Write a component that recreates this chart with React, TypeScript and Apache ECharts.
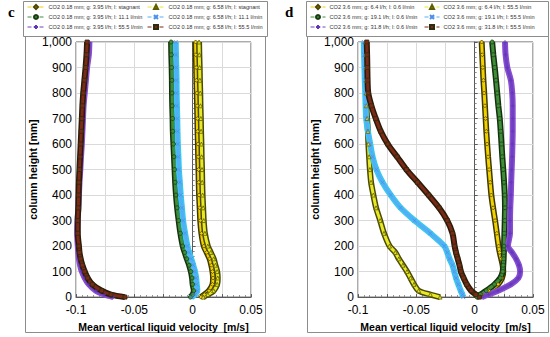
import React, { useEffect, useRef } from "react";
import * as echarts from "echarts";

// column heights [mm] at which the profiles were read
const heights = [0, 10, 25, 50, 75, 100, 125, 150, 175, 200, 250, 300, 350, 400, 450, 500, 550, 600, 650, 700, 750, 800, 850, 900, 950, 1000];

// panel c (CO2 0.18 mm) velocities [m/s]
const cG395Stag = [0.007, 0.010, 0.014, 0.017, 0.0175, 0.017, 0.016, 0.0145, 0.012, 0.0095, 0.0075, 0.0065, 0.006, 0.0055, 0.0052, 0.005, 0.0047, 0.0045, 0.0042, 0.004, 0.0038, 0.0035, 0.0032, 0.003, 0.0027, 0.0025];
const cG658Stag = [0.009, 0.013, 0.018, 0.021, 0.0215, 0.021, 0.0195, 0.018, 0.0155, 0.013, 0.0105, 0.0095, 0.009, 0.0085, 0.0082, 0.008, 0.0077, 0.0075, 0.0072, 0.007, 0.0067, 0.0065, 0.0062, 0.006, 0.0057, 0.0055];
const cG395L111 = [-0.002, 0.0, 0.001, 0.0, -0.0005, -0.0015, -0.003, -0.005, -0.0068, -0.0085, -0.0105, -0.012, -0.0133, -0.0143, -0.015, -0.0155, -0.016, -0.0165, -0.017, -0.0172, -0.0175, -0.0177, -0.0178, -0.018, -0.0183, -0.0185];
const cG658L111 = [-0.001, 0.002, 0.004, 0.0035, 0.003, 0.002, 0.0005, -0.0012, -0.003, -0.0045, -0.0065, -0.0082, -0.0092, -0.0102, -0.011, -0.0118, -0.0122, -0.0127, -0.013, -0.0132, -0.0135, -0.0137, -0.0138, -0.014, -0.0143, -0.0145];
const cG395L555 = [-0.068, -0.076, -0.083, -0.089, -0.0925, -0.095, -0.0965, -0.0975, -0.098, -0.0985, -0.099, -0.0987, -0.098, -0.0975, -0.097, -0.0963, -0.0957, -0.095, -0.0945, -0.094, -0.0935, -0.0925, -0.0915, -0.0905, -0.089, -0.0885];
const cG658L555 = [-0.058, -0.07, -0.078, -0.086, -0.09, -0.0925, -0.0945, -0.096, -0.097, -0.0975, -0.0985, -0.0985, -0.098, -0.0978, -0.0975, -0.097, -0.0965, -0.096, -0.0955, -0.095, -0.0945, -0.0938, -0.0928, -0.0918, -0.091, -0.0905];

// panel d (CO2 3.6 mm) velocities [m/s]
const dG64L06 = [0.002, 0.006, 0.012, 0.02, 0.0235, 0.0245, 0.024, 0.0228, 0.0215, 0.0205, 0.019, 0.0175, 0.0158, 0.0143, 0.0133, 0.0124, 0.0115, 0.0107, 0.01, 0.0094, 0.0088, 0.0082, 0.0075, 0.007, 0.0065, 0.006];
const dG64L555 = [-0.0297, -0.038, -0.048, -0.052, -0.055, -0.058, -0.0615, -0.065, -0.068, -0.073, -0.0777, -0.081, -0.0845, -0.0868, -0.0888, -0.0898, -0.0905, -0.0911, -0.0915, -0.0922, -0.0928, -0.0929, -0.093, -0.093, -0.0933, -0.0935];
const dG191L06 = [0.002, 0.005, 0.01, 0.017, 0.022, 0.024, 0.0245, 0.0248, 0.025, 0.0252, 0.0255, 0.0258, 0.026, 0.0258, 0.0252, 0.0245, 0.0237, 0.023, 0.0223, 0.0215, 0.0203, 0.0193, 0.0183, 0.0172, 0.016, 0.015];
const dG191L555 = [-0.0098, -0.0105, -0.012, -0.014, -0.016, -0.0175, -0.019, -0.0215, -0.0235, -0.026, -0.038, -0.0515, -0.0635, -0.072, -0.079, -0.0842, -0.0875, -0.0895, -0.0915, -0.093, -0.0935, -0.0938, -0.0942, -0.0945, -0.0948, -0.095];
const dG318L06 = [0.006, 0.012, 0.02, 0.031, 0.0375, 0.039, 0.038, 0.0355, 0.032, 0.0285, 0.0303, 0.0303, 0.0305, 0.031, 0.0313, 0.0317, 0.0321, 0.0324, 0.0326, 0.0326, 0.0326, 0.0322, 0.031, 0.028, 0.0265, 0.026];
const dG318L555 = [0.004, 0.001, -0.003, -0.0068, -0.0095, -0.0118, -0.013, -0.0145, -0.016, -0.0172, -0.019, -0.0235, -0.0305, -0.0395, -0.049, -0.0585, -0.0665, -0.0745, -0.0805, -0.0848, -0.0885, -0.0912, -0.0918, -0.092, -0.0922, -0.0925];

const namesC = [
  "CO2 0.18 mm; g: 3.95 l/h; l: stagnant",
  "CO2 0.18 mm; g: 6.58 l/h; l: stagnant",
  "CO2 0.18 mm; g: 3.95 l/h; l: 11.1 l/min",
  "CO2 0.18 mm; g: 6.58 l/h; l: 11.1 l/min",
  "CO2 0.18 mm; g: 3.95 l/h; l: 55.5 l/min",
  "CO2 0.18 mm; g: 6.58 l/h; l: 55.5 l/min",
];
const namesD = [
  "CO2 3.6 mm; g: 6.4 l/h; l: 0.6 l/min",
  "CO2 3.6 mm; g: 6.4 l/h; l: 55.5 l/min",
  "CO2 3.6 mm; g: 19.1 l/h; l: 0.6 l/min",
  "CO2 3.6 mm; g: 19.1 l/h; l: 55.5 l/min",
  "CO2 3.6 mm; g: 31.8 l/h; l: 0.6 l/min",
  "CO2 3.6 mm; g: 31.8 l/h; l: 55.5 l/min",
];
const xTickLabels = ["-0.1", "-0.05", "0", "0.05"];

const X_PATH = "path://M0,0 L10,10 M10,0 L0,10";
const PLUS_PATH = "path://M5,0 L5,10 M0,5 L10,5";

const styles = [
  { symbol: "diamond", fill: "#f2d000", stroke: "#4d4400", line: "#d8b400", band: "#3d3800" },
  { symbol: "triangle", fill: "#e8e826", stroke: "#5e5e00", line: "#e0dc00", band: "#4a4a06" },
  { symbol: "circle", fill: "#3f8f3a", stroke: "#1c3a12", line: "#2f6b25", band: "#16300e" },
  { symbol: X_PATH, fill: "#55aef5", stroke: "#4a90e8", line: "#5fa8f5", band: "#38c8f0" },
  { symbol: PLUS_PATH, fill: "#7040c4", stroke: "#6236b8", line: "#3a48c0", band: "#8a4fd0" },
  { symbol: "rect", fill: "#7a2a16", stroke: "#2e2a0c", line: "#3e5a1e", band: "#2a1a08" },
];

function buildSeries(names: string[], values: number[][], gridIdx: number) {
  const out: any[] = [];
  values.forEach((vals, i) => {
    const st = styles[i];
    const data = heights.map((h, k) => [vals[k], h]);
    out.push({
      name: "_band" + gridIdx + "_" + i,
      type: "line",
      xAxisIndex: gridIdx,
      yAxisIndex: gridIdx,
      data,
      showSymbol: false,
      silent: true,
      lineStyle: { color: st.band, width: 6 },
      smooth: 0.3,
    });
    out.push({
      name: names[i],
      type: "line",
      xAxisIndex: gridIdx,
      yAxisIndex: gridIdx,
      data,
      symbol: st.symbol,
      symbolSize: 4,
      showAllSymbol: true,
      smooth: 0.3,
      lineStyle: { color: st.fill, width: 3 },
      itemStyle: { color: st.fill, borderColor: st.stroke, borderWidth: 0.8 },
    });
  });
  return out;
}

function xAxis(gridIndex: number) {
  return {
    type: "value",
    gridIndex,
    min: -0.1,
    max: 0.05,
    interval: 0.025,
    name: "Mean vertical liquid velocity  [m/s]",
    nameLocation: "middle",
    nameGap: 17,
    nameTextStyle: { fontSize: 10.5, fontWeight: "bold", color: "#000", fontFamily: "Liberation Sans" },
    axisLine: { show: true, lineStyle: { color: "#595959" } },
    axisTick: { show: true, inside: true, length: 3, lineStyle: { color: "#595959" } },
    minorTick: { show: true, splitNumber: 5, length: 2, lineStyle: { color: "#8a8a8a" } },
    splitLine: { show: true, lineStyle: { color: "#dadada", width: 1 } },
    axisLabel: {
      margin: 7,
      fontSize: 12,
      lineHeight: 12,
      color: "#000",
      fontFamily: "Liberation Sans",
      formatter: (v: number) => {
        const k = Math.round((v + 0.1) / 0.05);
        if (Math.abs(v - (-0.1 + k * 0.05)) > 1e-6) return "";
        return xTickLabels[k] ?? "";
      },
    },
  };
}

function yAxis(gridIndex: number) {
  return {
    type: "value",
    gridIndex,
    min: 0,
    max: 1000,
    interval: 100,
    name: "column height [mm]",
    nameLocation: "middle",
    nameGap: 37,
    nameTextStyle: { fontSize: 10.5, fontWeight: "bold", color: "#000", fontFamily: "Liberation Sans" },
    axisLine: { show: true, lineStyle: { color: "#595959" } },
    axisTick: { show: true, inside: true, length: 3, lineStyle: { color: "#595959" } },
    minorTick: { show: true, splitNumber: 5, length: 2, lineStyle: { color: "#8a8a8a" } },
    splitLine: { show: true, lineStyle: { color: "#dadada", width: 1 } },
    axisLabel: { margin: 4, fontSize: 12, lineHeight: 11, color: "#000", fontFamily: "Liberation Sans" },
  };
}

function legend(names: string[], left: number, itemWidth: number) {
  return {
    orient: "vertical",
    left,
    top: 4,
    padding: 0,
    itemGap: 4,
    itemWidth,
    itemHeight: 5,
    selectedMode: false,
    textStyle: { fontSize: 5.6, color: "#333", fontFamily: "Liberation Sans", padding: [0, 0, 0, -1] },
    data: names.map((n) => ({ name: n, lineStyle: { type: "dashed", width: 1 } })),
  };
}

export default function App() {
  const ref = useRef<HTMLDivElement>(null);
  useEffect(() => {
    if (!ref.current) return;
    const chart = echarts.init(ref.current, undefined, { renderer: "svg" });
    const option: any = {
      animation: false,
      backgroundColor: "#fff",
      grid: [
        { left: 76, top: 42, width: 175, height: 261, show: true, borderColor: "#595959", borderWidth: 1 },
        { left: 358, top: 42, width: 175, height: 261, show: true, borderColor: "#595959", borderWidth: 1 },
      ],
      xAxis: [xAxis(0), xAxis(1)],
      yAxis: [yAxis(0), yAxis(1)],
      legend: [
        legend([namesC[0], namesC[2], namesC[4]], 27, 17),
        legend([namesC[1], namesC[3], namesC[5]], 147, 17),
        legend([namesD[0], namesD[2], namesD[4]], 310, 15),
        legend([namesD[1], namesD[3], namesD[5]], 424, 15),
      ],
      graphic: [
        { type: "rect", shape: { x: 23.5, y: 1.5, width: 244, height: 35 }, style: { fill: "none", stroke: "#8c8c8c", lineWidth: 1 }, silent: true },
        { type: "rect", shape: { x: 25.5, y: 36.5, width: 240, height: 296 }, style: { fill: "none", stroke: "#8c8c8c", lineWidth: 1 }, silent: true },
        { type: "rect", shape: { x: 306.5, y: 1.5, width: 242, height: 35 }, style: { fill: "none", stroke: "#8c8c8c", lineWidth: 1 }, silent: true },
        { type: "rect", shape: { x: 307.5, y: 36.5, width: 241, height: 296 }, style: { fill: "none", stroke: "#8c8c8c", lineWidth: 1 }, silent: true },
        { type: "text", x: 8, y: 4, style: { text: "c", font: "bold 15px 'Liberation Serif'", fill: "#000" } },
        { type: "text", x: 285, y: 4, style: { text: "d", font: "bold 15px 'Liberation Serif'", fill: "#000" } },
      ],
      series: [
        ...buildSeries(namesC, [cG395Stag, cG658Stag, cG395L111, cG658L111, cG395L555, cG658L555], 0),
        ...buildSeries(namesD, [dG64L06, dG64L555, dG191L06, dG191L555, dG318L06, dG318L555], 1),
      ],
    };
    chart.setOption(option);
    return () => chart.dispose();
  }, []);
  return <div ref={ref} style={{ position: "absolute", left: 0, top: 0, width: 550, height: 337 }} />;
}
